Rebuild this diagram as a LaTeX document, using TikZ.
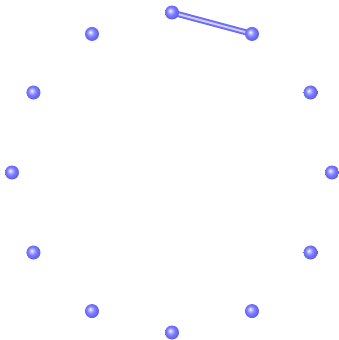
\documentclass[tikz,border=0pt]{standalone}
\usetikzlibrary{backgrounds}
\pgfdeclareradialshading{vball}{\pgfpoint{-7bp}{7bp}}{%
  color(0bp)=(white);
  color(4bp)=(rgb,255:red,205;green,205;blue,255);
  color(14bp)=(rgb,255:red,125;green,125;blue,255);
  color(30bp)=(rgb,255:red,85;green,85;blue,225);
  color(50bp)=(rgb,255:red,80;green,80;blue,215)}
\definecolor{tubec}{RGB}{110,110,245}
\definecolor{tubel}{RGB}{205,205,255}
\tikzset{
  vtx/.style={circle, minimum size=14pt, inner sep=0pt, shading=vball},
  tubeo/.style={line width=6pt, tubec, line cap=round},
  tubei/.style={line width=2pt, tubel, line cap=round, shorten <=3pt, shorten >=3pt}
}
\begin{document}
\begin{tikzpicture}[x=1pt,y=-1pt]
\useasboundingbox (0,0) rectangle (339,340);
\foreach \i in {0,...,11} {
  \node[vtx] (v\i) at ({172+160*sin(30*\i)},{172.5-160*cos(30*\i)}) {};
}
\begin{scope}[on background layer]
\draw[tubeo] (v0.center) -- (v1.center);
\draw[tubei] (v0.center) -- (v1.center);
\end{scope}
\end{tikzpicture}
\end{document}
